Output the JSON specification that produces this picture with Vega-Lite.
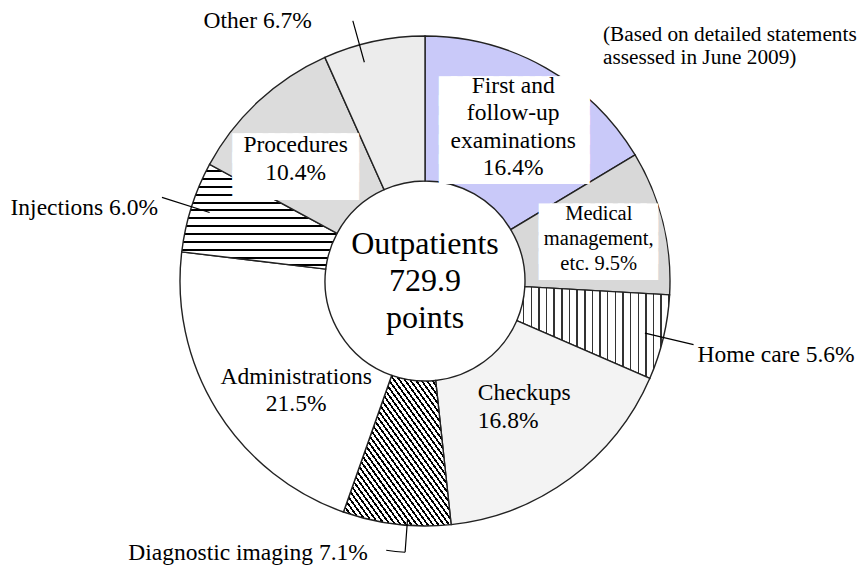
{
  "$schema": "https://vega.github.io/schema/vega-lite/v6.json",
  "width": 850,
  "height": 562,
  "autosize": {"type": "none"},
  "padding": {"left": 0, "top": 0, "right": 9, "bottom": 4},
  "background": "white",
  "config": {"view": {"stroke": null}, "text": {"font": "Liberation Serif"}},
  "title": {
    "text": ["(Based on detailed statements", "assessed in June 2009)"],
    "anchor": "end", "frame": "group", "align": "left", "baseline": "top",
    "dx": -247, "dy": 73, "offset": 0,
    "font": "Liberation Serif", "fontSize": 21.3, "fontWeight": "normal", "color": "#000", "lineHeight": 23
  },
  "data": {
    "values": [
      {"idx": 1, "cat": "First and follow-up examinations", "value": 16.4, "label": ["First and", "follow-up", "examinations", "16.4%"]},
      {"idx": 2, "cat": "Medical management, etc.", "value": 9.5, "label": ["Medical", "management,", "etc. 9.5%"]},
      {"idx": 3, "cat": "Home care", "value": 5.6, "label": "Home care 5.6%"},
      {"idx": 4, "cat": "Checkups", "value": 16.8, "label": ["Checkups", "16.8%"]},
      {"idx": 5, "cat": "Diagnostic imaging", "value": 7.1, "label": "Diagnostic imaging 7.1%"},
      {"idx": 6, "cat": "Administrations", "value": 21.5, "label": ["Administrations", "21.5%"]},
      {"idx": 7, "cat": "Injections", "value": 6.0, "label": "Injections 6.0%"},
      {"idx": 8, "cat": "Procedures", "value": 10.4, "label": ["Procedures", "10.4%"]},
      {"idx": 9, "cat": "Other", "value": 6.7, "label": "Other 6.7%"}
    ]
  },
  "layer": [
    {
      "mark": {"type": "arc", "outerRadius": 245, "innerRadius": 100, "stroke": "#222", "strokeWidth": 1.4},
      "encoding": {
        "theta": {"field": "value", "type": "quantitative", "stack": true},
        "order": {"field": "idx", "type": "quantitative"},
        "fill": {
          "condition": [
            {"test": "datum.cat === 'First and follow-up examinations'", "value": "#c9c9f9"},
            {"test": "datum.cat === 'Medical management, etc.'", "value": "#d8d8d8"},
            {"test": "datum.cat === 'Home care'", "value": {"gradient": "linear", "x1": 0, "y1": 0, "x2": 1, "y2": 0, "stops": [
              {"offset": 0, "color": "#fff"}, {"offset": 0.04, "color": "#fff"}, {"offset": 0.04, "color": "#333"}, {"offset": 0.05, "color": "#333"},
              {"offset": 0.05, "color": "#fff"}, {"offset": 0.09, "color": "#fff"}, {"offset": 0.09, "color": "#333"}, {"offset": 0.1, "color": "#333"},
              {"offset": 0.1, "color": "#fff"}, {"offset": 0.14, "color": "#fff"}, {"offset": 0.14, "color": "#333"}, {"offset": 0.15, "color": "#333"},
              {"offset": 0.15, "color": "#fff"}, {"offset": 0.19, "color": "#fff"}, {"offset": 0.19, "color": "#333"}, {"offset": 0.2, "color": "#333"},
              {"offset": 0.2, "color": "#fff"}, {"offset": 0.24, "color": "#fff"}, {"offset": 0.24, "color": "#333"}, {"offset": 0.25, "color": "#333"},
              {"offset": 0.25, "color": "#fff"}, {"offset": 0.29, "color": "#fff"}, {"offset": 0.29, "color": "#333"}, {"offset": 0.3, "color": "#333"},
              {"offset": 0.3, "color": "#fff"}, {"offset": 0.34, "color": "#fff"}, {"offset": 0.34, "color": "#333"}, {"offset": 0.35, "color": "#333"},
              {"offset": 0.35, "color": "#fff"}, {"offset": 0.39, "color": "#fff"}, {"offset": 0.39, "color": "#333"}, {"offset": 0.4, "color": "#333"},
              {"offset": 0.4, "color": "#fff"}, {"offset": 0.44, "color": "#fff"}, {"offset": 0.44, "color": "#333"}, {"offset": 0.45, "color": "#333"},
              {"offset": 0.45, "color": "#fff"}, {"offset": 0.49, "color": "#fff"}, {"offset": 0.49, "color": "#333"}, {"offset": 0.5, "color": "#333"},
              {"offset": 0.5, "color": "#fff"}, {"offset": 0.54, "color": "#fff"}, {"offset": 0.54, "color": "#333"}, {"offset": 0.55, "color": "#333"},
              {"offset": 0.55, "color": "#fff"}, {"offset": 0.59, "color": "#fff"}, {"offset": 0.59, "color": "#333"}, {"offset": 0.6, "color": "#333"},
              {"offset": 0.6, "color": "#fff"}, {"offset": 0.64, "color": "#fff"}, {"offset": 0.64, "color": "#333"}, {"offset": 0.65, "color": "#333"},
              {"offset": 0.65, "color": "#fff"}, {"offset": 0.69, "color": "#fff"}, {"offset": 0.69, "color": "#333"}, {"offset": 0.7, "color": "#333"},
              {"offset": 0.7, "color": "#fff"}, {"offset": 0.74, "color": "#fff"}, {"offset": 0.74, "color": "#333"}, {"offset": 0.75, "color": "#333"},
              {"offset": 0.75, "color": "#fff"}, {"offset": 0.79, "color": "#fff"}, {"offset": 0.79, "color": "#333"}, {"offset": 0.8, "color": "#333"},
              {"offset": 0.8, "color": "#fff"}, {"offset": 0.84, "color": "#fff"}, {"offset": 0.84, "color": "#333"}, {"offset": 0.85, "color": "#333"},
              {"offset": 0.85, "color": "#fff"}, {"offset": 0.89, "color": "#fff"}, {"offset": 0.89, "color": "#333"}, {"offset": 0.9, "color": "#333"},
              {"offset": 0.9, "color": "#fff"}, {"offset": 0.94, "color": "#fff"}, {"offset": 0.94, "color": "#333"}, {"offset": 0.95, "color": "#333"},
              {"offset": 0.95, "color": "#fff"}, {"offset": 0.99, "color": "#fff"}, {"offset": 0.99, "color": "#333"}, {"offset": 1, "color": "#333"}
            ]}},
            {"test": "datum.cat === 'Checkups'", "value": "#f3f3f3"},
            {"test": "datum.cat === 'Diagnostic imaging'", "value": {"gradient": "linear", "x1": 0, "y1": 1, "x2": 1, "y2": 0, "stops": [
              {"offset": 0, "color": "#fff"}, {"offset": 0.015, "color": "#fff"}, {"offset": 0.015, "color": "#000"}, {"offset": 0.025, "color": "#000"},
              {"offset": 0.025, "color": "#fff"}, {"offset": 0.04, "color": "#fff"}, {"offset": 0.04, "color": "#000"}, {"offset": 0.05, "color": "#000"},
              {"offset": 0.05, "color": "#fff"}, {"offset": 0.065, "color": "#fff"}, {"offset": 0.065, "color": "#000"}, {"offset": 0.075, "color": "#000"},
              {"offset": 0.075, "color": "#fff"}, {"offset": 0.09, "color": "#fff"}, {"offset": 0.09, "color": "#000"}, {"offset": 0.1, "color": "#000"},
              {"offset": 0.1, "color": "#fff"}, {"offset": 0.115, "color": "#fff"}, {"offset": 0.115, "color": "#000"}, {"offset": 0.125, "color": "#000"},
              {"offset": 0.125, "color": "#fff"}, {"offset": 0.14, "color": "#fff"}, {"offset": 0.14, "color": "#000"}, {"offset": 0.15, "color": "#000"},
              {"offset": 0.15, "color": "#fff"}, {"offset": 0.165, "color": "#fff"}, {"offset": 0.165, "color": "#000"}, {"offset": 0.175, "color": "#000"},
              {"offset": 0.175, "color": "#fff"}, {"offset": 0.19, "color": "#fff"}, {"offset": 0.19, "color": "#000"}, {"offset": 0.2, "color": "#000"},
              {"offset": 0.2, "color": "#fff"}, {"offset": 0.215, "color": "#fff"}, {"offset": 0.215, "color": "#000"}, {"offset": 0.225, "color": "#000"},
              {"offset": 0.225, "color": "#fff"}, {"offset": 0.24, "color": "#fff"}, {"offset": 0.24, "color": "#000"}, {"offset": 0.25, "color": "#000"},
              {"offset": 0.25, "color": "#fff"}, {"offset": 0.265, "color": "#fff"}, {"offset": 0.265, "color": "#000"}, {"offset": 0.275, "color": "#000"},
              {"offset": 0.275, "color": "#fff"}, {"offset": 0.29, "color": "#fff"}, {"offset": 0.29, "color": "#000"}, {"offset": 0.3, "color": "#000"},
              {"offset": 0.3, "color": "#fff"}, {"offset": 0.315, "color": "#fff"}, {"offset": 0.315, "color": "#000"}, {"offset": 0.325, "color": "#000"},
              {"offset": 0.325, "color": "#fff"}, {"offset": 0.34, "color": "#fff"}, {"offset": 0.34, "color": "#000"}, {"offset": 0.35, "color": "#000"},
              {"offset": 0.35, "color": "#fff"}, {"offset": 0.365, "color": "#fff"}, {"offset": 0.365, "color": "#000"}, {"offset": 0.375, "color": "#000"},
              {"offset": 0.375, "color": "#fff"}, {"offset": 0.39, "color": "#fff"}, {"offset": 0.39, "color": "#000"}, {"offset": 0.4, "color": "#000"},
              {"offset": 0.4, "color": "#fff"}, {"offset": 0.415, "color": "#fff"}, {"offset": 0.415, "color": "#000"}, {"offset": 0.425, "color": "#000"},
              {"offset": 0.425, "color": "#fff"}, {"offset": 0.44, "color": "#fff"}, {"offset": 0.44, "color": "#000"}, {"offset": 0.45, "color": "#000"},
              {"offset": 0.45, "color": "#fff"}, {"offset": 0.465, "color": "#fff"}, {"offset": 0.465, "color": "#000"}, {"offset": 0.475, "color": "#000"},
              {"offset": 0.475, "color": "#fff"}, {"offset": 0.49, "color": "#fff"}, {"offset": 0.49, "color": "#000"}, {"offset": 0.5, "color": "#000"},
              {"offset": 0.5, "color": "#fff"}, {"offset": 0.515, "color": "#fff"}, {"offset": 0.515, "color": "#000"}, {"offset": 0.525, "color": "#000"},
              {"offset": 0.525, "color": "#fff"}, {"offset": 0.54, "color": "#fff"}, {"offset": 0.54, "color": "#000"}, {"offset": 0.55, "color": "#000"},
              {"offset": 0.55, "color": "#fff"}, {"offset": 0.565, "color": "#fff"}, {"offset": 0.565, "color": "#000"}, {"offset": 0.575, "color": "#000"},
              {"offset": 0.575, "color": "#fff"}, {"offset": 0.59, "color": "#fff"}, {"offset": 0.59, "color": "#000"}, {"offset": 0.6, "color": "#000"},
              {"offset": 0.6, "color": "#fff"}, {"offset": 0.615, "color": "#fff"}, {"offset": 0.615, "color": "#000"}, {"offset": 0.625, "color": "#000"},
              {"offset": 0.625, "color": "#fff"}, {"offset": 0.64, "color": "#fff"}, {"offset": 0.64, "color": "#000"}, {"offset": 0.65, "color": "#000"},
              {"offset": 0.65, "color": "#fff"}, {"offset": 0.665, "color": "#fff"}, {"offset": 0.665, "color": "#000"}, {"offset": 0.675, "color": "#000"},
              {"offset": 0.675, "color": "#fff"}, {"offset": 0.69, "color": "#fff"}, {"offset": 0.69, "color": "#000"}, {"offset": 0.7, "color": "#000"},
              {"offset": 0.7, "color": "#fff"}, {"offset": 0.715, "color": "#fff"}, {"offset": 0.715, "color": "#000"}, {"offset": 0.725, "color": "#000"},
              {"offset": 0.725, "color": "#fff"}, {"offset": 0.74, "color": "#fff"}, {"offset": 0.74, "color": "#000"}, {"offset": 0.75, "color": "#000"},
              {"offset": 0.75, "color": "#fff"}, {"offset": 0.765, "color": "#fff"}, {"offset": 0.765, "color": "#000"}, {"offset": 0.775, "color": "#000"},
              {"offset": 0.775, "color": "#fff"}, {"offset": 0.79, "color": "#fff"}, {"offset": 0.79, "color": "#000"}, {"offset": 0.8, "color": "#000"},
              {"offset": 0.8, "color": "#fff"}, {"offset": 0.815, "color": "#fff"}, {"offset": 0.815, "color": "#000"}, {"offset": 0.825, "color": "#000"},
              {"offset": 0.825, "color": "#fff"}, {"offset": 0.84, "color": "#fff"}, {"offset": 0.84, "color": "#000"}, {"offset": 0.85, "color": "#000"},
              {"offset": 0.85, "color": "#fff"}, {"offset": 0.865, "color": "#fff"}, {"offset": 0.865, "color": "#000"}, {"offset": 0.875, "color": "#000"},
              {"offset": 0.875, "color": "#fff"}, {"offset": 0.89, "color": "#fff"}, {"offset": 0.89, "color": "#000"}, {"offset": 0.9, "color": "#000"},
              {"offset": 0.9, "color": "#fff"}, {"offset": 0.915, "color": "#fff"}, {"offset": 0.915, "color": "#000"}, {"offset": 0.925, "color": "#000"},
              {"offset": 0.925, "color": "#fff"}, {"offset": 0.94, "color": "#fff"}, {"offset": 0.94, "color": "#000"}, {"offset": 0.95, "color": "#000"},
              {"offset": 0.95, "color": "#fff"}, {"offset": 0.965, "color": "#fff"}, {"offset": 0.965, "color": "#000"}, {"offset": 0.975, "color": "#000"},
              {"offset": 0.975, "color": "#fff"}, {"offset": 0.99, "color": "#fff"}, {"offset": 0.99, "color": "#000"}, {"offset": 1, "color": "#000"}
            ]}},
            {"test": "datum.cat === 'Injections'", "value": {"gradient": "linear", "x1": 0, "y1": 0, "x2": 0, "y2": 1, "stops": [
              {"offset": 0, "color": "#fff"}, {"offset": 0.056, "color": "#fff"}, {"offset": 0.056, "color": "#000"}, {"offset": 0.075, "color": "#000"},
              {"offset": 0.075, "color": "#fff"}, {"offset": 0.131, "color": "#fff"}, {"offset": 0.131, "color": "#000"}, {"offset": 0.15, "color": "#000"},
              {"offset": 0.15, "color": "#fff"}, {"offset": 0.206, "color": "#fff"}, {"offset": 0.206, "color": "#000"}, {"offset": 0.225, "color": "#000"},
              {"offset": 0.225, "color": "#fff"}, {"offset": 0.281, "color": "#fff"}, {"offset": 0.281, "color": "#000"}, {"offset": 0.3, "color": "#000"},
              {"offset": 0.3, "color": "#fff"}, {"offset": 0.356, "color": "#fff"}, {"offset": 0.356, "color": "#000"}, {"offset": 0.375, "color": "#000"},
              {"offset": 0.375, "color": "#fff"}, {"offset": 0.431, "color": "#fff"}, {"offset": 0.431, "color": "#000"}, {"offset": 0.45, "color": "#000"},
              {"offset": 0.45, "color": "#fff"}, {"offset": 0.506, "color": "#fff"}, {"offset": 0.506, "color": "#000"}, {"offset": 0.525, "color": "#000"},
              {"offset": 0.525, "color": "#fff"}, {"offset": 0.581, "color": "#fff"}, {"offset": 0.581, "color": "#000"}, {"offset": 0.6, "color": "#000"},
              {"offset": 0.6, "color": "#fff"}, {"offset": 0.656, "color": "#fff"}, {"offset": 0.656, "color": "#000"}, {"offset": 0.675, "color": "#000"},
              {"offset": 0.675, "color": "#fff"}, {"offset": 0.731, "color": "#fff"}, {"offset": 0.731, "color": "#000"}, {"offset": 0.75, "color": "#000"},
              {"offset": 0.75, "color": "#fff"}, {"offset": 0.806, "color": "#fff"}, {"offset": 0.806, "color": "#000"}, {"offset": 0.825, "color": "#000"},
              {"offset": 0.825, "color": "#fff"}, {"offset": 0.881, "color": "#fff"}, {"offset": 0.881, "color": "#000"}, {"offset": 0.9, "color": "#000"},
              {"offset": 0.9, "color": "#fff"}, {"offset": 0.956, "color": "#fff"}, {"offset": 0.956, "color": "#000"}, {"offset": 0.975, "color": "#000"},
              {"offset": 0.975, "color": "#fff"}, {"offset": 1, "color": "#fff"}
            ]}},
            {"test": "datum.cat === 'Procedures'", "value": "#dcdcdc"},
            {"test": "datum.cat === 'Other'", "value": "#ececec"}
          ],
          "value": "#ffffff"
        }
      }
    },
    {
      "mark": {"type": "arc", "outerRadius": 276, "innerRadius": 226, "padAngle": 3.1416, "fill": "transparent", "stroke": "#000", "strokeWidth": 1.2},
      "encoding": {
        "theta": {"field": "value", "type": "quantitative", "stack": true},
        "order": {"field": "idx", "type": "quantitative"},
        "strokeOpacity": {"condition": {"test": "datum.cat === 'Home care' || datum.cat === 'Injections'", "value": 1}, "value": 0}
      }
    },
    {
      "mark": {"type": "arc", "outerRadius": 270, "innerRadius": 227, "padAngle": 3.1416, "thetaOffset": -0.06, "fill": "transparent", "stroke": "#000", "strokeWidth": 1.2},
      "encoding": {
        "theta": {"field": "value", "type": "quantitative", "stack": true},
        "order": {"field": "idx", "type": "quantitative"},
        "strokeOpacity": {"condition": {"test": "datum.cat === 'Other'", "value": 1}, "value": 0}
      }
    },
    {
      "mark": {"type": "arc", "outerRadius": 272, "innerRadius": 240, "padAngle": 3.1416, "thetaOffset": -0.043, "fill": "transparent", "stroke": "#000", "strokeWidth": 1.2},
      "encoding": {
        "theta": {"field": "value", "type": "quantitative", "stack": true},
        "order": {"field": "idx", "type": "quantitative"},
        "strokeOpacity": {"condition": {"test": "datum.cat === 'Diagnostic imaging'", "value": 1}, "value": 0}
      }
    },
    {
      "mark": {"type": "arc", "outerRadius": 272, "innerRadius": 272, "padAngle": 0.2654, "thetaOffset": -0.008, "fill": "transparent", "stroke": "#000", "strokeWidth": 1.2},
      "encoding": {
        "theta": {"field": "value", "type": "quantitative", "stack": true},
        "order": {"field": "idx", "type": "quantitative"},
        "strokeOpacity": {"condition": {"test": "datum.cat === 'Diagnostic imaging'", "value": 1}, "value": 0}
      }
    },
    {
      "mark": {"type": "text", "radius": 177, "dx": 2, "dy": -35, "align": "center", "baseline": "middle", "font": "DejaVu Sans Mono", "fontSize": 20, "lineHeight": 19.5, "fill": "#fff", "stroke": "#fff", "strokeWidth": 6, "strokeJoin": "miter"},
      "encoding": {
        "theta": {"field": "value", "type": "quantitative", "stack": true},
        "order": {"field": "idx", "type": "quantitative"},
        "text": {"condition": {"test": "datum.cat === 'First and follow-up examinations'", "value": ["████████████", "████████████", "████████████", "████████████", "████████████"]}, "value": ""}
      }
    },
    {
      "mark": {"type": "text", "radius": 177, "dx": -9, "dy": -2, "align": "center", "baseline": "middle", "font": "DejaVu Sans Mono", "fontSize": 20, "lineHeight": 18.5, "fill": "#fff", "stroke": "#fff", "strokeWidth": 6, "strokeJoin": "miter"},
      "encoding": {
        "theta": {"field": "value", "type": "quantitative", "stack": true},
        "order": {"field": "idx", "type": "quantitative"},
        "text": {"condition": {"test": "datum.cat === 'Procedures'", "value": ["██████████", "██████████", "██████████"]}, "value": ""}
      }
    },
    {
      "mark": {"type": "text", "radius": 180, "dx": -1.5, "dy": -20, "align": "center", "baseline": "middle", "font": "DejaVu Sans Mono", "fontSize": 18.8, "lineHeight": 15.9, "fill": "#fff", "stroke": "#fff", "strokeWidth": 6, "strokeJoin": "miter"},
      "encoding": {
        "theta": {"field": "value", "type": "quantitative", "stack": true},
        "order": {"field": "idx", "type": "quantitative"},
        "text": {"condition": {"test": "datum.cat === 'Medical management, etc.'", "value": ["██████████", "██████████", "██████████", "██████████"]}, "value": ""}
      }
    },
    {
      "mark": {"type": "text", "radius": 177, "dx": 1, "dy": -41, "align": "center", "baseline": "middle", "font": "Liberation Serif", "fontSize": 23.5, "lineHeight": 27.5, "color": "#000"},
      "encoding": {
        "theta": {"field": "value", "type": "quantitative", "stack": true},
        "order": {"field": "idx", "type": "quantitative"},
        "text": {"condition": {"test": "datum.cat === 'First and follow-up examinations'", "field": "label"}, "value": ""}
      }
    },
    {
      "mark": {"type": "text", "radius": 180, "dx": -1, "dy": -24, "align": "center", "baseline": "middle", "font": "Liberation Serif", "fontSize": 20.5, "lineHeight": 25, "color": "#000"},
      "encoding": {
        "theta": {"field": "value", "type": "quantitative", "stack": true},
        "order": {"field": "idx", "type": "quantitative"},
        "text": {"condition": {"test": "datum.cat === 'Medical management, etc.'", "field": "label"}, "value": ""}
      }
    },
    {
      "mark": {"type": "text", "radius": 282, "dx": -2, "dy": 9, "align": "left", "baseline": "middle", "font": "Liberation Serif", "fontSize": 23.5, "lineHeight": 27.5, "color": "#000"},
      "encoding": {
        "theta": {"field": "value", "type": "quantitative", "stack": true},
        "order": {"field": "idx", "type": "quantitative"},
        "text": {"condition": {"test": "datum.cat === 'Home care'", "field": "label"}, "value": ""}
      }
    },
    {
      "mark": {"type": "text", "radius": 133, "dx": -26, "dy": 5, "align": "left", "baseline": "middle", "font": "Liberation Serif", "fontSize": 23.5, "lineHeight": 28, "color": "#000"},
      "encoding": {
        "theta": {"field": "value", "type": "quantitative", "stack": true},
        "order": {"field": "idx", "type": "quantitative"},
        "text": {"condition": {"test": "datum.cat === 'Checkups'", "field": "label"}, "value": ""}
      }
    },
    {
      "mark": {"type": "text", "radius": 277, "dx": -25, "dy": -3, "align": "right", "baseline": "middle", "font": "Liberation Serif", "fontSize": 23.5, "lineHeight": 27.5, "color": "#000"},
      "encoding": {
        "theta": {"field": "value", "type": "quantitative", "stack": true},
        "order": {"field": "idx", "type": "quantitative"},
        "text": {"condition": {"test": "datum.cat === 'Diagnostic imaging'", "field": "label"}, "value": ""}
      }
    },
    {
      "mark": {"type": "text", "radius": 167, "dx": 13, "dy": 8, "align": "center", "baseline": "middle", "font": "Liberation Serif", "fontSize": 23.5, "lineHeight": 26.4, "color": "#000"},
      "encoding": {
        "theta": {"field": "value", "type": "quantitative", "stack": true},
        "order": {"field": "idx", "type": "quantitative"},
        "text": {"condition": {"test": "datum.cat === 'Administrations'", "field": "label"}, "value": ""}
      }
    },
    {
      "mark": {"type": "text", "radius": 277, "dx": -3, "dy": 11, "align": "right", "baseline": "middle", "font": "Liberation Serif", "fontSize": 23.5, "lineHeight": 27.5, "color": "#000"},
      "encoding": {
        "theta": {"field": "value", "type": "quantitative", "stack": true},
        "order": {"field": "idx", "type": "quantitative"},
        "text": {"condition": {"test": "datum.cat === 'Injections'", "field": "label"}, "value": ""}
      }
    },
    {
      "mark": {"type": "text", "radius": 177, "dx": -9, "dy": -6, "align": "center", "baseline": "middle", "font": "Liberation Serif", "fontSize": 23.5, "lineHeight": 28, "color": "#000"},
      "encoding": {
        "theta": {"field": "value", "type": "quantitative", "stack": true},
        "order": {"field": "idx", "type": "quantitative"},
        "text": {"condition": {"test": "datum.cat === 'Procedures'", "field": "label"}, "value": ""}
      }
    },
    {
      "mark": {"type": "text", "radius": 278, "dx": -55, "dy": 12, "align": "right", "baseline": "middle", "font": "Liberation Serif", "fontSize": 23.5, "lineHeight": 27.5, "color": "#000"},
      "encoding": {
        "theta": {"field": "value", "type": "quantitative", "stack": true},
        "order": {"field": "idx", "type": "quantitative"},
        "text": {"condition": {"test": "datum.cat === 'Other'", "field": "label"}, "value": ""}
      }
    },
    {
      "data": {"values": [{"t": ["Outpatients", "729.9", "points"]}]},
      "mark": {"type": "text", "align": "center", "baseline": "middle", "dy": -37, "font": "Liberation Serif", "fontSize": 32, "lineHeight": 37, "color": "#000"},
      "encoding": {"text": {"field": "t", "type": "nominal"}}
    }
  ]
}
